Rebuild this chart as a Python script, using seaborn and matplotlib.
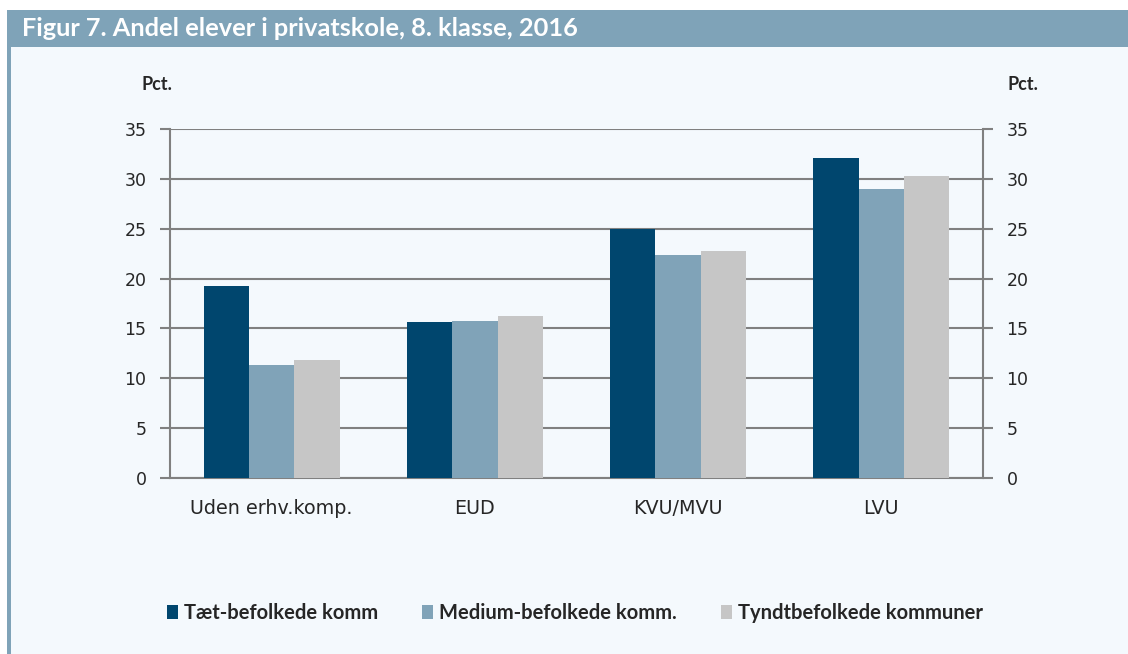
import numpy as np
import pandas as pd
import seaborn as sns
import matplotlib
matplotlib.use('Agg')
from matplotlib import pyplot as plt
from matplotlib.patches import Rectangle, Patch

# data
categories = ['Uden erhv.komp.', 'EUD', 'KVU/MVU', 'LVU']
series = ['Tæt-befolkede komm', 'Medium-befolkede komm.', 'Tyndtbefolkede kommuner']
taet = [19.3, 15.6, 25.0, 32.1]
medium = [11.3, 15.7, 22.4, 28.95]
tyndt = [11.8, 16.2, 22.75, 30.3]
yticks = [0, 5, 10, 15, 20, 25, 30, 35]

colors = ['#00466e', '#80a3b8', '#c6c6c6']
bg = '#f4f9fd'
band = '#7fa3b8'
gridc = '#808080'
tickfont = 'DejaVu Sans'

df = pd.DataFrame({
    'kategori': categories * 3,
    'serie': [series[0]] * 4 + [series[1]] * 4 + [series[2]] * 4,
    'pct': taet + medium + tyndt,
})

sns.set_style('white')
plt.rcParams['font.family'] = ['Lato', 'DejaVu Sans']

W, H = 1128, 654
fig = plt.figure(figsize=(W / 100, H / 100), dpi=100, facecolor='white')

# frame: background, title band, left strip
fig.patches.append(Rectangle((7 / W, 0), 1 - 7 / W, 1 - 10 / H, transform=fig.transFigure,
                             facecolor=bg, edgecolor='none', zorder=-3))
fig.patches.append(Rectangle((7 / W, 1 - 47 / H), 1 - 7 / W, 37 / H, transform=fig.transFigure,
                             facecolor=band, edgecolor='none', zorder=-2))
fig.patches.append(Rectangle((7 / W, 0), 4 / W, 1 - 10 / H, transform=fig.transFigure,
                             facecolor=band, edgecolor='none', zorder=-2))
fig.text(22 / W, 1 - 29 / H, 'Figur 7. Andel elever i privatskole, 8. klasse, 2016',
         color='white', fontsize=18.3, fontweight='bold', va='center', ha='left')

ax = fig.add_axes([170 / W, 1 - 478 / H, (983 - 170) / W, (478 - 129) / H])
ax.set_facecolor(bg)

sns.barplot(data=df, x='kategori', y='pct', hue='serie', order=categories,
            hue_order=series, palette=colors, width=0.67, gap=0,
            saturation=1, linewidth=0, ax=ax, legend=False, zorder=3)

ax.set_ylim(0, 35)
ax.set_xlim(-0.5, 3.5)
ax.set_yticks(yticks)
ax.set_yticklabels([str(t) for t in yticks], family=tickfont)
ax.yaxis.grid(True, color=gridc, linewidth=1.5, zorder=0)
ax.set_axisbelow(True)
ax.set_xlabel('')
ax.set_ylabel('')

ax.set_xticks([-0.5, 0.5, 1.5, 2.5, 3.5])
ax.set_xticklabels([])
ax.set_xticks(range(len(categories)), minor=True)
ax.set_xticklabels(categories, minor=True, family=tickfont)
ax.tick_params(axis='x', which='major', length=7, width=1.5, color=gridc, direction='out')
ax.tick_params(axis='x', which='minor', length=0, pad=15, labelsize=13.8)
ax.tick_params(axis='y', length=7, width=1.5, color=gridc, direction='out', labelsize=12.5, pad=10)

for side in ['left', 'right', 'bottom']:
    ax.spines[side].set_visible(True)
    ax.spines[side].set_color(gridc)
    ax.spines[side].set_linewidth(1.5)
ax.spines['top'].set_visible(False)

ax2 = ax.twinx()
ax2.set_ylim(0, 35)
ax2.set_yticks(yticks)
ax2.set_yticklabels([str(t) for t in yticks], family=tickfont)
ax2.tick_params(axis='y', length=7, width=1.5, color=gridc, direction='out', labelsize=12.5, pad=10)
for side in ['left', 'right', 'bottom', 'top']:
    ax2.spines[side].set_visible(False)

fig.text(157 / W, 1 - 85 / H, 'Pct.', fontsize=13, fontweight='bold', ha='center', va='center')
fig.text(1023 / W, 1 - 85 / H, 'Pct.', fontsize=13, fontweight='bold', ha='center', va='center')

handles = [Patch(facecolor=c, edgecolor='none', label=s) for c, s in zip(colors, series)]
leg = fig.legend(handles=handles, loc='center', bbox_to_anchor=(575 / W, 1 - 613 / H), ncol=3,
                 frameon=False, handlelength=0.55, handleheight=0.7, handletextpad=0.3,
                 columnspacing=2.2, prop={'weight': 'bold', 'size': 14.5})

fig.savefig('out.png', dpi=100, facecolor='white')
